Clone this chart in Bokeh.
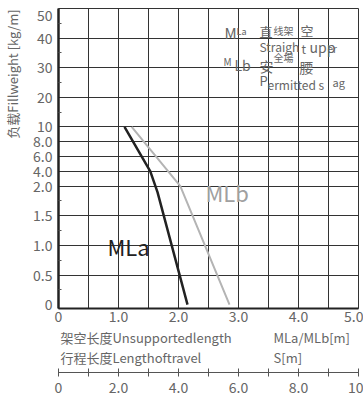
import numpy as np
from bokeh.plotting import figure
from bokeh.layouts import column
from bokeh.models import FixedTicker, Range1d, Label
from bokeh.embed import file_html
from bokeh.resources import INLINE

# ---- data -------------------------------------------------------------
# y axis is a piecewise scale: tick values and their slot on the axis
y_tick_values = [0, 0.5, 1.0, 1.5, 2.0, 4.0, 6.0, 8.0, 10, 20, 30, 40, 50]
y_tick_labels = ["0", "0.5", "1.0", "1.5", "2.0", "4.0", "6.0", "8.0", "10", "20", "30", "40", "50"]
y_tick_slots = [0, 1, 2, 3, 4, 4.5, 5, 5.5, 6, 7, 8, 9, 9.75]
y_minor_slots = [0.5, 1.5, 2.5, 3.5, 6.5, 7.5, 8.5, 9.5]

x_ticks = [0, 1, 2, 3, 4, 5]
x_tick_labels = ["0", "1.0", "2.0", "3.0", "4.0", "5.0"]
s_ticks = list(range(11))
s_tick_labels = {0: "0", 2: "2.0", 4: "4.0", 6: "6.0", 8: "8.0", 10: "10"}

# MLa / MLb [m] versus fill weight [kg/m]
mla_len = [1.10, 1.53, 1.65, 2.15]
mla_weight = [10, 4.0, 1.9, 0]
mlb_len = [1.22, 2.03, 2.85]
mlb_weight = [10, 2.0, 0]


def slot(w):
    return np.interp(w, y_tick_values, y_tick_slots)


FONT = "Noto Sans CJK SC"
GRAY = "#666666"
LEFT = 58          # page x of the plotting frame's left edge
TOP = 8            # page y of the frame's top edge
FRAME_H = 300
A_BOTTOM = 17      # height of the main x-axis strip

p = figure(frame_width=300, frame_height=FRAME_H, output_backend="svg", toolbar_location=None,
           x_range=Range1d(0, 5), y_range=Range1d(-0.13, 10),
           min_border_left=LEFT, min_border_right=5, min_border_top=TOP, min_border_bottom=A_BOTTOM,
           background_fill_color="white", border_fill_color="white")
p.outline_line_color = "#333333"
p.outline_line_width = 1

# grids
p.xgrid.ticker = FixedTicker(ticks=[i * 0.5 for i in range(11)])
p.ygrid.ticker = FixedTicker(ticks=[s for s in y_tick_slots if 0 < s < 9.7])
for g in (p.xgrid, p.ygrid):
    g.grid_line_color = "#333333"
    g.grid_line_width = 1
    g.grid_line_alpha = 1

# y axis
ya = p.yaxis[0]
ya.ticker = FixedTicker(ticks=y_tick_slots, minor_ticks=y_minor_slots)
ya.major_label_overrides = {s: l for s, l in zip(y_tick_slots, y_tick_labels)}
ya.major_tick_in = 0
ya.major_tick_out = 0
ya.minor_tick_in = 3
ya.minor_tick_out = 0
ya.minor_tick_line_color = "#555555"
ya.axis_line_color = "#222222"
ya.axis_line_width = 2.5
ya.major_label_standoff = 6
ya.major_label_text_font = FONT
ya.major_label_text_font_size = "14px"
ya.major_label_text_color = GRAY
ya.axis_label = "\u3000" * 13 + "负载Fillweight [kg/m]"
ya.axis_label_text_font = FONT
ya.axis_label_text_font_size = "13px"
ya.axis_label_text_font_style = "normal"
ya.axis_label_text_color = GRAY
ya.axis_label_standoff = 8

# main x axis
xa = p.xaxis[0]
xa.ticker = FixedTicker(ticks=x_ticks)
xa.major_label_overrides = {t: l for t, l in zip(x_ticks, x_tick_labels)}
xa.major_tick_in = 0
xa.major_tick_out = 0
xa.minor_tick_line_color = None
xa.axis_line_color = "#222222"
xa.axis_line_width = 2
xa.major_label_standoff = 2
xa.major_label_text_font = FONT
xa.major_label_text_font_size = "14px"
xa.major_label_text_color = GRAY

# curves
p.line(mlb_len, slot(mlb_weight), line_color="#b4b4b4", line_width=2)
p.line(mla_len, slot(mla_weight), line_color="#222222", line_width=2.5)


def add_text(fig, txt, px, py, size, frame_left, frame_bottom, color=GRAY):
    fig.add_layout(Label(x=px - frame_left, y=frame_bottom - py, x_units="screen", y_units="screen",
                         text=txt, text_font=FONT, text_font_size=f"{size}px",
                         text_color=color, text_baseline="middle", text_align="left"))


FB = TOP + FRAME_H  # page y of frame bottom
inner = [
    ("MLa", 107, 245, 22, "#222222"),
    ("MLb", 205, 191, 22, "#a0a0a0"),
    ("M", 224, 32, 15, GRAY),
    ("La", 236, 31, 9, GRAY),
    ("直", 259, 31, 13, GRAY),
    ("线架", 273, 30, 10, GRAY),
    ("空", 300, 30, 13, GRAY),
    ("Straigh", 259, 46, 12, GRAY),
    ("t", 301, 48, 12, GRAY),
    ("upp", 309, 46, 14, GRAY),
    ("er", 327, 48, 10, GRAY),
    ("M", 223, 61, 10, GRAY),
    ("Lb", 234, 64, 14, GRAY),
    ("安", 259, 65, 14, GRAY),
    ("全場", 273, 57, 10, GRAY),
    ("腰", 299, 66, 14, GRAY),
    ("P", 259, 80, 13, GRAY),
    ("ermitted s", 267, 84, 12, GRAY),
    ("ag", 332, 81, 11, GRAY),
]
for txt, px, py, size, color in inner:
    add_text(p, txt, px, py, size, LEFT, FB, color)

# ---- lower strip: captions and length-of-travel axis -------------------
S_AXIS_Y = 372
B_TOP = FB + A_BOTTOM
q = figure(frame_width=300, frame_height=S_AXIS_Y - B_TOP, output_backend="svg", toolbar_location=None,
           x_range=Range1d(0, 10), y_range=Range1d(0, 1),
           min_border_left=LEFT, min_border_right=5, min_border_top=0, min_border_bottom=0,
           background_fill_color="white", border_fill_color="white")
q.outline_line_color = None
q.grid.visible = False
q.yaxis.visible = False
sa = q.xaxis[0]
sa.ticker = FixedTicker(ticks=s_ticks)
sa.major_label_overrides = {t: s_tick_labels.get(t, "") for t in s_ticks}
sa.major_tick_in = 4
sa.major_tick_out = 4
sa.minor_tick_line_color = None
sa.axis_line_color = "#555555"
sa.major_tick_line_color = "#555555"
sa.major_label_standoff = 5
sa.major_label_text_font = FONT
sa.major_label_text_font_size = "14px"
sa.major_label_text_color = GRAY

captions = [
    ("架空长度Unsupportedlength", 60, 337, 13),
    ("MLa/MLb[m]", 273, 337, 13),
    ("行程长度Lengthoftravel", 60, 357, 13),
    ("S[m]", 273, 357, 13),
]
for txt, px, py, size in captions:
    add_text(q, txt, px, py, size, LEFT, S_AXIS_Y)

layout = column(p, q, spacing=0)
open("out.html", "w").write(file_html(layout, INLINE))
